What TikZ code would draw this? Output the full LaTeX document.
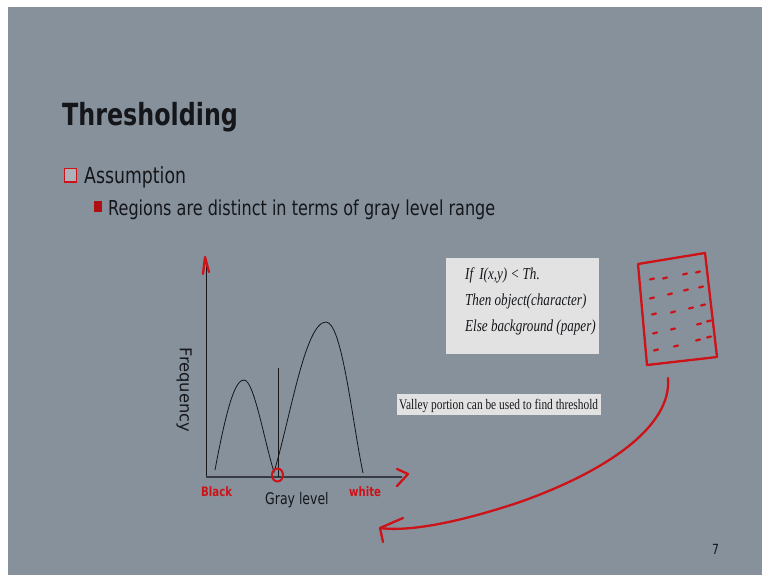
\documentclass[tikz,border=0pt]{standalone}
\usepackage{fontspec}
\usepackage{xcolor}
\usetikzlibrary{calc}
\newfontfamily\slidesans{DejaVu Sans}[FakeStretch=0.78]
\newfontfamily\slidesansup{DejaVu Sans}
\newfontfamily\slideserif{Liberation Serif}[FakeStretch=0.78]
\definecolor{slidegray}{RGB}{135,145,156}
\definecolor{boxgray}{RGB}{226,226,226}
\definecolor{pen}{RGB}{205,18,24}
\definecolor{ink}{RGB}{20,22,26}
\definecolor{axisgray}{RGB}{55,60,68}

\begin{document}
\begin{tikzpicture}[
  x=1pt, y=-1pt,
  sanstext/.style={inner sep=0pt, anchor=base west, text=ink},
  seriftext/.style={inner sep=0pt, anchor=base west, text=ink,
                    font=\slideserif\itshape\fontsize{16.8}{20}\selectfont},
  caixa/.style={fill=boxgray, draw=none},
  caneta/.style={draw=pen, line width=2.3pt, line cap=round, line join=round},
  traco/.style={draw=pen, line width=2.2pt, line cap=round}
]
\useasboundingbox (0,0) rectangle (762,575);
\fill[white] (0,0) rectangle (762,575);
\fill[slidegray] (8,7) rectangle (762,575);

% titulo e itens
\node[sanstext, font=\slidesans\bfseries\fontsize{30.5}{36}\selectfont] (titulo) at (62,125) {Thresholding};
\draw[pen, line width=1.6pt, fill=slidegray!70!white] (64.5,168.5) rectangle (76.5,182);
\node[sanstext, font=\slidesans\fontsize{22.2}{26}\selectfont] (hip) at (84,183) {Assumption};
\fill[pen!85!black] (94,201) rectangle (101.5,212);
\node[sanstext, font=\slidesans\fontsize{20.6}{24}\selectfont] (reg) at (108,215) {Regions are distinct in terms of gray level range};

% histograma
\coordinate (orig) at (206,477);
\coordinate (topo) at (206,262);
\coordinate (fimx) at (402,477);
\draw[ink, line width=1pt] (orig) -- (topo);
\draw[axisgray, line width=2pt] (orig) -- (fimx);
\draw[ink, line width=0.8pt] (215,470) .. controls (228,400) and (236,380) .. (244,380)
  .. controls (254,380) and (264,440) .. (274,472)
  .. controls (290,420) and (305,322) .. (326,322)
  .. controls (342,322) and (352,420) .. (363,473);
\draw[ink, line width=1pt] (278,368) -- (278,477);
\draw[caneta, line width=2pt] (277.5,475) ellipse (5.5 and 6.5);
\draw[caneta] ($(topo)+(-3,12)$) -- ($(topo)+(-1,-5)$) -- ($(topo)+(3,10)$);
\draw[caneta] (397,469) -- (408,474) -- (397,486);
\node[sanstext, text=pen, font=\slidesans\bfseries\fontsize{13}{14}\selectfont] (preto) at (201,496) {Black};
\node[sanstext, text=pen, font=\slidesans\bfseries\fontsize{13}{14}\selectfont] (branco) at (349,496) {white};
\node[sanstext, font=\slidesans\fontsize{16}{19}\selectfont] (cinza) at (265,504) {Gray level};
\node[inner sep=0pt, text=ink, rotate=-90, font=\slidesansup\fontsize{16.3}{19}\selectfont] (freq) at (184,390) {Frequency};

% regra do limiar
\fill[caixa] (446,258) rectangle (599,354);
\node[seriftext] (se) at (465,279) {If\, I(x,y) < Th.};
\node[seriftext] (entao) at (465,305) {Then object(character)};
\node[seriftext] (senao) at (465,331) {Else background (paper)};
\fill[caixa] (397,394) rectangle (601,415);
\node[sanstext, font=\slideserif\fontsize{14.6}{17}\selectfont] (vale) at (399,409) {Valley portion can be used to find threshold};

% documento esbocado
\draw[caneta] (638,264) -- (705,253) -- (717,357) -- (647,365) -- cycle;
\foreach \a/\b in {652/279, 665/278, 685/274, 698/272,
                   652/298, 670/294, 686/290, 701/287,
                   654/314, 673/312, 691/308, 703/305,
                   655/333, 673/329, 699/324, 709/321,
                   656/350, 676/346, 698/340, 709/337}
  \draw[traco] (\a-2,\b+0.5) -- (\a+2,\b-0.5);

% seta curva
\coordinate (doc) at (668,378);
\coordinate (ponta) at (380,528);
\draw[caneta] (doc) .. controls (672,425) and (610,470) .. (520,502)
  .. controls (460,522) and (410,532) .. (ponta);
\draw[caneta] (403,518) -- (ponta) -- (383,542);

\node[sanstext, font=\slidesans\fontsize{14}{16}\selectfont] (pag) at (712,554) {7};
\end{tikzpicture}
\end{document}
